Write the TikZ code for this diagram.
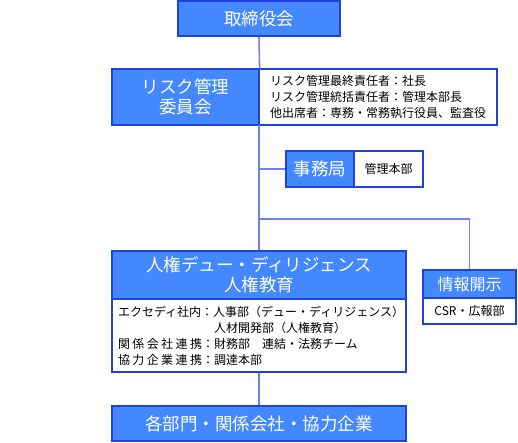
\documentclass[tikz,border=0pt]{standalone}
\usepackage{fontspec}
\setmainfont{Noto Sans CJK JP}
\usepackage{tikz}
\usetikzlibrary{positioning,calc}
\definecolor{boxblue}{RGB}{68,136,255}
\definecolor{boxline}{RGB}{32,64,224}
\definecolor{linkblue}{RGB}{112,128,240}
\tikzset{
  head/.style={draw=boxline, fill=boxblue, text=white, line width=1.2pt,
    inner sep=0pt, align=center, font=\fontsize{17.5}{20}\selectfont},
  body/.style={draw=boxline, fill=white, text=black, line width=1.2pt,
    inner sep=0pt, align=left, font=\fontsize{12}{16}\selectfont},
  link/.style={draw=linkblue, line width=1.6pt}
}
\newcommand{\spread}[1]{\makebox[7em][s]{#1}}
\begin{document}
\begin{tikzpicture}[x=1pt,y=-1pt]
  \useasboundingbox (0,0) rectangle (518,442);
  %Links
  \coordinate (trunk) at (259,125);
  \coordinate (fork) at (259,219);
  \coordinate (corner) at (469.5,219);
  %Boxes
  \node[head, minimum width=162pt, minimum height=35pt] (board) at (259,18.5) {取締役会};
  \node[head, minimum width=147pt, minimum height=56pt] (riskhead) at (185.5,97) {リスク管理\\委員会};
  \node[body, minimum width=238pt, minimum height=56pt, text width=216pt] (riskbody) at (378,97)
    {リスク管理最終責任者：社長\\リスク管理統括責任者：管理本部長\\他出席者：専務・常務執行役員、監査役};
  \node[head, minimum width=68pt, minimum height=36pt] (office) at (320,169) {事務局};
  \node[body, minimum width=69pt, minimum height=36pt, align=center] (officebody) at (388.5,169) {管理本部};
  \node[head, minimum width=294pt, minimum height=48pt] (rightshead) at (259,275)
    {人権デュー・ディリジェンス\\人権教育};
  \node[body, minimum width=294pt, minimum height=73pt, text width=282pt] (rightsbody) at (259,335.5)
    {エクセディ社内：人事部（デュー・ディリジェンス）\\
     \hspace*{8em}人材開発部（人権教育）\\
     \spread{関\hfill 係\hfill 会\hfill 社\hfill 連\hfill 携}：財務部　連結・法務チーム\\
     \spread{協\hfill 力\hfill 企\hfill 業\hfill 連\hfill 携}：調達本部};
  \node[head, minimum width=93pt, minimum height=28pt, font=\fontsize{16}{18}\selectfont] (disclhead) at (469.5,284) {情報開示};
  \node[body, minimum width=93pt, minimum height=26pt, align=center] (disclbody) at (469.5,311) {CSR・広報部};
  \node[head, minimum width=294pt, minimum height=35pt] (groups) at (259,423.5) {各部門・関係会社・協力企業};
  %Connectors
  \draw[link] (board.south) -- (riskhead.north east);
  \draw[link] (trunk) -- (rightshead.north);
  \draw[link] (trunk |- office.west) -- (office.west);
  \draw[link] (fork) -- (corner) -- (disclhead.north);
  \draw[link] (rightsbody.south) -- (groups.north);
\end{tikzpicture}
\end{document}
